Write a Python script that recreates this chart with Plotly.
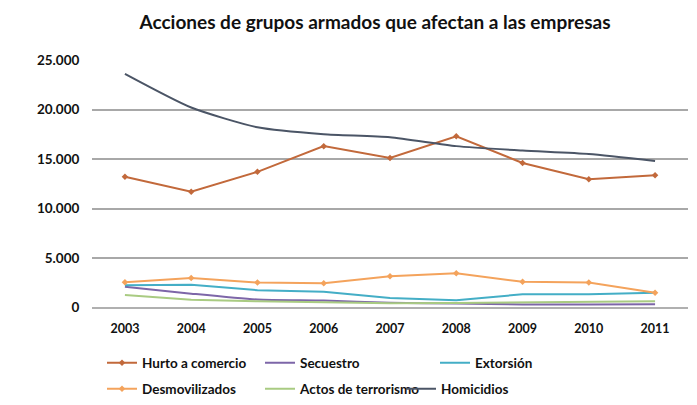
import plotly.graph_objects as go

years = ["2003", "2004", "2005", "2006", "2007", "2008", "2009", "2010", "2011"]
hurto = [13200, 11700, 13700, 16300, 15100, 17300, 14600, 12950, 13350]
secuestro = [2100, 1400, 800, 700, 480, 400, 300, 300, 320]
extorsion = [2250, 2300, 1750, 1600, 950, 720, 1340, 1340, 1480]
desmovilizados = [2550, 2980, 2520, 2450, 3150, 3450, 2600, 2520, 1500]
terrorismo = [1270, 780, 620, 560, 430, 450, 530, 560, 620]
homicidios = [23600, 20200, 18200, 17500, 17200, 16300, 15850, 15500, 14800]

W, H = 697, 405
fig = go.Figure()

def add(name, y, color, legend, markers=False, shape="linear", width=2):
    fig.add_trace(go.Scatter(
        x=years, y=y, name=name, legend=legend, showlegend=True,
        mode="lines+markers" if markers else "lines",
        line=dict(color=color, width=width, shape=shape, smoothing=0.6 if shape == "spline" else None),
        marker=dict(size=5, color=color, symbol="diamond"),
    ))

add("Hurto a comercio", hurto, "#C2693B", "legend", markers=True)
add("Secuestro", secuestro, "#7D66A8", "legend2", shape="spline")
add("Extorsión", extorsion, "#44AEC6", "legend3")
add("Desmovilizados", desmovilizados, "#F4A35C", "legend4", markers=True)
add("Actos de terrorismo", terrorismo, "#A9CB82", "legend5")
add("Homicidios", homicidios, "#4B5566", "legend6", shape="spline")

font_fam = "Lato, 'Open Sans', sans-serif"
leg_font = dict(size=13.5, color="#111111", weight="bold")

def leg(xpx, ypx):
    return dict(orientation="h", xref="container", yref="container",
                x=xpx / W, xanchor="left", y=1 - ypx / H, yanchor="middle",
                itemwidth=30, font=leg_font, bgcolor="rgba(0,0,0,0)")

fig.update_layout(
    width=W, height=H,
    showlegend=True,
    paper_bgcolor="white", plot_bgcolor="white",
    margin=dict(l=84, r=17, t=52, b=89),
    separators=",.",
    font=dict(family=font_fam, size=12, color="#222222"),
    title=dict(text="<b>Acciones de grupos armados que afectan a las empresas</b>",
               xref="container", x=367 / W, xanchor="center",
               yref="container", y=1 - 14 / H, yanchor="middle",
               font=dict(size=19, color="#111111")),
    xaxis=dict(type="category", showgrid=False, showline=False, zeroline=False,
               ticks="outside", ticklen=9, tickcolor="rgba(0,0,0,0)",
               tickfont=dict(size=12.5, color="#111111", weight="bold")),
    yaxis=dict(range=[0, 25000], tickvals=[0, 5000, 10000, 15000, 20000, 25000],
               tickformat=",d", showgrid=True, gridcolor="#A8A8A8", gridwidth=1.6,
               zeroline=True, zerolinecolor="#B0B0B0", zerolinewidth=2,
               ticks="outside", ticklen=9, tickcolor="rgba(0,0,0,0)",
               tickfont=dict(size=13.5, color="#111111", weight="bold")),
    legend=leg(94, 355),
    legend2=leg(252, 355),
    legend3=leg(427, 355),
    legend4=leg(94, 381),
    legend5=leg(252, 381),
    legend6=leg(393, 381),
)

fig.write_html("out.html")
